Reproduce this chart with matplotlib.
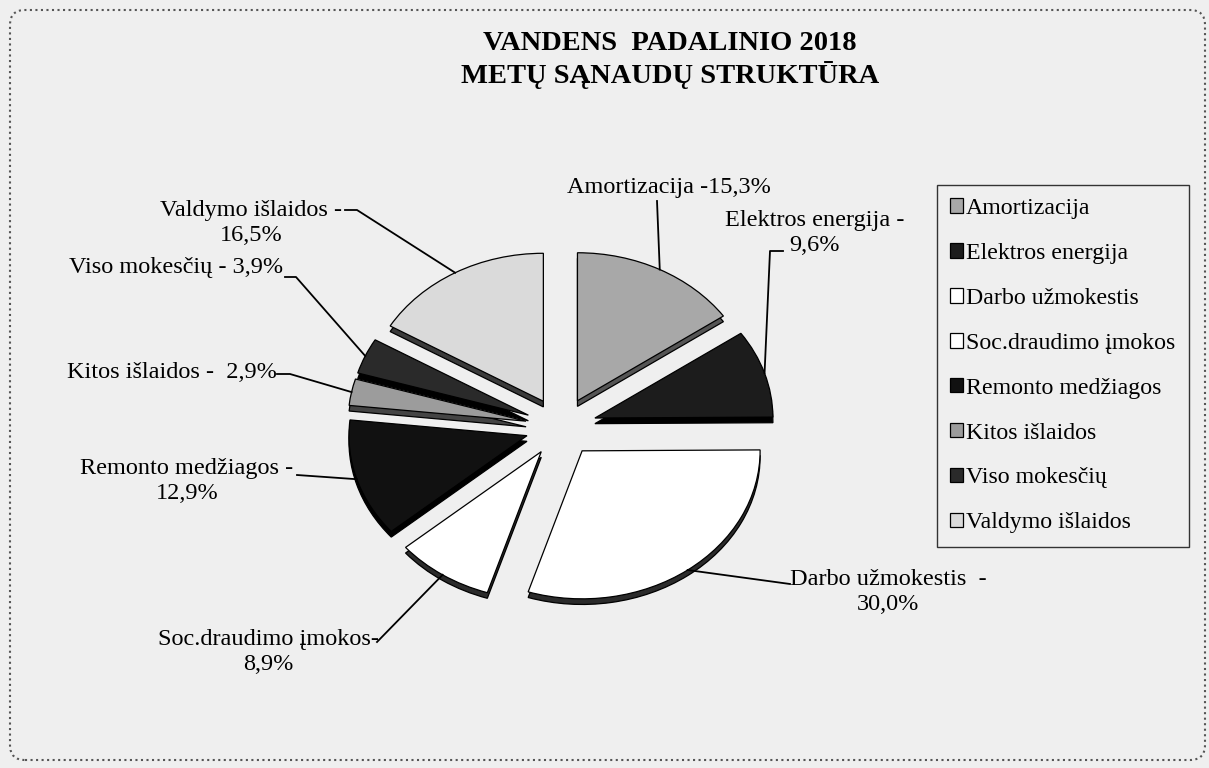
import matplotlib

matplotlib.use("Agg")
import matplotlib.pyplot as plt  # noqa: E402
import numpy as np  # noqa: E402
from matplotlib.lines import Line2D  # noqa: E402
from matplotlib.patches import FancyBboxPatch  # noqa: E402

W, H = 1209, 768
BG = "#efefef"

CATEGORIES = ["Amortizacija", "Elektros energija", "Darbo užmokestis",
              "Soc.draudimo įmokos", "Remonto medžiagos", "Kitos išlaidos",
              "Viso mokesčių", "Valdymo išlaidos"]
SHARES = [15.3, 9.6, 30.0, 8.9, 12.9, 2.9, 3.9, 16.5]
LABELS = ["Amortizacija -15,3%", "Elektros energija -\n9,6%",
          "Darbo užmokestis  -\n30,0%", "Soc.draudimo įmokos-\n8,9%",
          "Remonto medžiagos -\n12,9%", "Kitos išlaidos -  2,9%",
          "Viso mokesčių - 3,9%", "Valdymo išlaidos -\n16,5%"]
TITLE = "VANDENS  PADALINIO 2018\nMETŲ SĄNAUDŲ STRUKTŪRA"

# grey-scale fills (top face) and darker side faces for the 3d look
FACE = ["#a8a8a8", "#1c1c1c", "#ffffff", "#ffffff", "#111111", "#9c9c9c",
        "#2a2a2a", "#dadada"]
SIDE = ["#555555", "#000000", "#2b2b2b", "#2b2b2b", "#000000", "#444444",
        "#000000", "#3a3a3a"]

# label placement in pixels from top-left: (x, y, ha), then leader elbows
LABEL_POS = [(669, 187, "center"), (815, 233, "center"), (888, 592, "center"),
             (268, 652, "center"), (187, 481, "center"), (277, 373, "right"),
             (283, 267, "right"), (251, 223, "center")]
LEADERS = [[(657, 201)], [(783, 251), (770, 251)], [(790, 584)],
           [(377, 642)], [(297, 475)], [(277, 374), (290, 374)],
           [(285, 277), (296, 277)], [(345, 210), (357, 210)]]

plt.rcParams["font.family"] = ["Liberation Serif", "DejaVu Serif"]

fig = plt.figure(figsize=(W / 100, H / 100), dpi=100, facecolor=BG)

# pie centre (561, 427) px, radii 178 x 148 px -> squashed ellipse
cx, cy, rx, ry = 561, 427, 178, 148
ax = fig.add_axes([(cx - 1.5 * rx) / W, (H - cy - 1.5 * ry) / H,
                   3 * rx / W, 3 * ry / H])
ax.set_facecolor("none")
explode = [0.2] * len(SHARES)

ax.pie(SHARES, explode=explode, startangle=90, counterclock=False,
       colors=SIDE, center=(0, -0.038),
       wedgeprops=dict(edgecolor="black", linewidth=0.9))
wedges, _ = ax.pie(SHARES, explode=explode, startangle=90, counterclock=False,
                   colors=FACE, wedgeprops=dict(edgecolor="black", linewidth=0.9))
ax.set_aspect("auto")
ax.set_xlim(-1.5, 1.5)
ax.set_ylim(-1.5, 1.5)
ax.axis("off")


def px(x, y):
    return x / W, 1 - y / H


to_fig = fig.transFigure.inverted()
for w, lab, (tx, ty, ha), elbows in zip(wedges, LABELS, LABEL_POS, LEADERS):
    fig.text(*px(tx, ty), lab, ha=ha, va="center", fontsize=17.5,
             linespacing=1.3, multialignment="center")
    th = np.deg2rad(0.5 * (w.theta1 + w.theta2))
    wx = w.center[0] + w.r * np.cos(th)
    wy = w.center[1] + w.r * np.sin(th)
    end = to_fig.transform(ax.transData.transform((wx, wy)))
    pts = [px(*p) for p in elbows] + [tuple(end)]
    fig.add_artist(Line2D([p[0] for p in pts], [p[1] for p in pts],
                          color="black", linewidth=1.3,
                          transform=fig.transFigure))

fig.text(*px(670, 60), TITLE, ha="center", va="center", fontsize=20.5,
         fontweight="bold", linespacing=1.2)

leg = fig.legend(wedges, CATEGORIES, loc="upper left",
                 bbox_to_anchor=px(937, 185), frameon=True, fancybox=False,
                 edgecolor="#333333", facecolor=BG, framealpha=1,
                 fontsize=17.2, handlelength=0.55, handleheight=0.55,
                 handletextpad=0.12, labelspacing=1.0, borderpad=0.55,
                 borderaxespad=0)
leg.get_frame().set_linewidth(1.0)

# rounded outer frame of the chart area
frame = FancyBboxPatch((0.1, 0.08), 11.95, 7.5,
                       boxstyle="round,pad=0,rounding_size=0.15",
                       transform=fig.dpi_scale_trans, facecolor="none",
                       edgecolor="#555555", linewidth=1.5, linestyle=":")
fig.add_artist(frame)

fig.savefig("out.png", dpi=100, facecolor=BG)
